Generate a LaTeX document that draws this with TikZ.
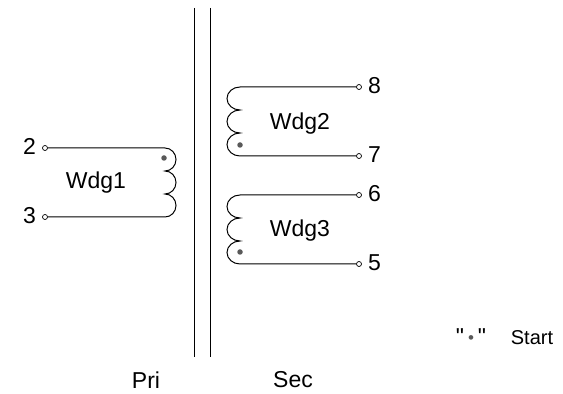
\documentclass[tikz,border=0pt]{standalone}
\usepackage{fontspec}
\setmainfont{Liberation Sans}
\newfontfamily\keyfont{Liberation Sans}
\usetikzlibrary{positioning}
\tikzset{
  term/.style={circle, draw, fill=white, inner sep=0pt, minimum size=5pt, line width=0.7pt},
  startdot/.style={circle, fill=black!65, inner sep=0pt, minimum size=5.5pt},
  lbl/.style={inner sep=0pt, font=\fontsize{23}{26}\selectfont},
  small/.style={inner sep=0pt, font=\fontsize{20}{24}\selectfont},
  wire/.style={line width=1pt}
}
\begin{document}
\begin{tikzpicture}[x=1pt, y=1pt]
  \useasboundingbox (0,0) rectangle (563,394);
  % core
  \coordinate (c1t) at (194,386);
  \coordinate (c1b) at (194,37);
  \coordinate (c2t) at (210,386);
  \coordinate (c2b) at (210,37);
  \draw [wire] (c1t) -- (c1b);
  \draw [wire] (c2t) -- (c2b);
  % terminals
  \node [term] (t2) at (45,246) {};
  \node [term] (t3) at (45,177) {};
  \node [term] (t8) at (359,307) {};
  \node [term] (t7) at (359,238) {};
  \node [term] (t6) at (359,199) {};
  \node [term] (t5) at (359,130) {};
  \node [lbl, left=6pt of t2, yshift=1.5pt] (n2) {2};
  \node [lbl, left=6pt of t3, yshift=1.5pt] (n3) {3};
  \node [lbl, right=6pt of t8, yshift=1pt] (n8) {8};
  \node [lbl, right=6pt of t7, yshift=1pt] (n7) {7};
  \node [lbl, right=6pt of t6, yshift=1pt] (n6) {6};
  \node [lbl, right=6pt of t5, yshift=1pt] (n5) {5};
  % windings
  \draw [wire] (t2) -- (165,246)
    arc [start angle=90, end angle=-90, x radius=11pt, y radius=11.5pt]
    arc [start angle=90, end angle=-90, x radius=11pt, y radius=11.5pt]
    arc [start angle=90, end angle=-90, x radius=11pt, y radius=11.5pt] -- (t3);
  \draw [wire] (t8) -- (240,307)
    arc [start angle=90, end angle=270, x radius=13pt, y radius=11.5pt]
    arc [start angle=90, end angle=270, x radius=13pt, y radius=11.5pt]
    arc [start angle=90, end angle=270, x radius=13pt, y radius=11.5pt] -- (t7);
  \draw [wire] (t6) -- (240,199)
    arc [start angle=90, end angle=270, x radius=13pt, y radius=11.5pt]
    arc [start angle=90, end angle=270, x radius=13pt, y radius=11.5pt]
    arc [start angle=90, end angle=270, x radius=13pt, y radius=11.5pt] -- (t5);
  \node [startdot] (d1) at (164,236) {};
  \node [startdot] (d2) at (240,249) {};
  \node [startdot] (d3) at (240,142) {};
  % names
  \node [lbl, anchor=base] (wdg1) at (96,205) {Wdg1};
  \node [lbl, anchor=base] (wdg2) at (300,264) {Wdg2};
  \node [lbl, anchor=base] (wdg3) at (300,157) {Wdg3};
  \node [lbl] (pri) at (146,14) {Pri};
  \node [lbl] (sec) at (293,14) {Sec};
  \node [lbl, anchor=base] (key) at (471,49) {\keyfont"\hspace{4pt}\raisebox{1.5pt}{\color{black!65}\fontsize{17}{17}\selectfont•}\hspace{4pt}"};
  \node [small, anchor=base] (start) at (532,49) {Start};
\end{tikzpicture}
\end{document}
